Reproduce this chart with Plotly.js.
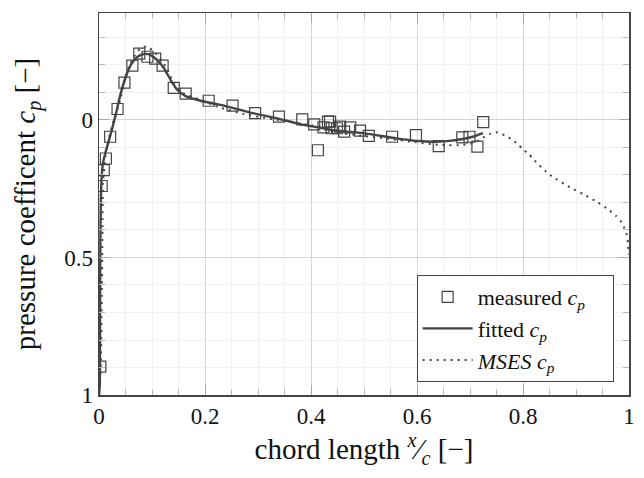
<!DOCTYPE html>
<html>
<head>
<meta charset="utf-8">
<script src="https://cdn.plot.ly/plotly-3.0.1.min.js"></script>
<style>html,body{margin:0;padding:0;background:#fff;}#chart{width:644px;height:478px;}</style>
</head>
<body>
<div id="chart"></div>
<script>
// measured pressure coefficient
const measuredX = [0.0025, 0.005, 0.009, 0.013, 0.021, 0.035, 0.048, 0.063, 0.076, 0.0915, 0.106, 0.120, 0.141, 0.1635, 0.207, 0.252, 0.2945, 0.3395, 0.3835, 0.406, 0.413, 0.4235, 0.432, 0.436, 0.439, 0.449, 0.455, 0.4625, 0.474, 0.4925, 0.509, 0.553, 0.598, 0.641, 0.6855, 0.699, 0.714, 0.725];
const measuredY = [0.897, 0.24, 0.182, 0.14, 0.061, -0.04, -0.136, -0.198, -0.241, -0.230, -0.223, -0.198, -0.117, -0.096, -0.070, -0.052, -0.025, -0.012, -0.002, 0.016, 0.110, 0.027, 0.006, 0.006, 0.030, 0.030, 0.024, 0.042, 0.027, 0.039, 0.058, 0.061, 0.055, 0.095, 0.063, 0.061, 0.097, 0.008];

// fitted pressure coefficient
const fittedX = [0.0, 0.0015, 0.002, 0.0025, 0.0035, 0.005, 0.0075, 0.012, 0.0226, 0.032, 0.041, 0.0508, 0.060, 0.0727, 0.085, 0.0977, 0.110, 0.1227, 0.1353, 0.148, 0.1635, 0.1917, 0.2356, 0.2857, 0.3358, 0.386, 0.4235, 0.436, 0.4987, 0.5614, 0.599, 0.6366, 0.6617, 0.6867, 0.7055, 0.7243];
const fittedY = [1.0, 0.96, 0.72, 0.47, 0.29, 0.206, 0.157, 0.12, 0.048, -0.024, -0.097, -0.158, -0.2, -0.230, -0.240, -0.236, -0.218, -0.188, -0.145, -0.109, -0.087, -0.070, -0.052, -0.027, -0.006, 0.018, 0.030, 0.036, 0.048, 0.067, 0.076, 0.079, 0.076, 0.069, 0.061, 0.048];

// MSES pressure coefficient
const msesX = [0.0, 0.002, 0.0035, 0.0045, 0.0055, 0.0065, 0.0075, 0.011, 0.016, 0.028, 0.04, 0.05, 0.063, 0.0777, 0.09, 0.104, 0.115, 0.128, 0.135, 0.145, 0.160, 0.192, 0.229, 0.273, 0.317, 0.361, 0.411, 0.436, 0.499, 0.549, 0.599, 0.643, 0.687, 0.712, 0.7274, 0.737, 0.752, 0.765, 0.778, 0.790, 0.80, 0.811, 0.8195, 0.851, 0.889, 0.914, 0.939, 0.962, 0.975, 0.984, 0.991, 0.996, 0.998, 0.999, 1.0];
const msesY = [1.0, 0.95, 0.88, 0.75, 0.6, 0.4, 0.23, 0.15, 0.085, 0.0, -0.073, -0.158, -0.22, -0.26, -0.267, -0.248, -0.224, -0.188, -0.158, -0.121, -0.097, -0.073, -0.045, -0.022, -0.006, 0.006, 0.024, 0.042, 0.058, 0.069, 0.081, 0.091, 0.091, 0.079, 0.061, 0.051, 0.045, 0.055, 0.070, 0.087, 0.107, 0.124, 0.143, 0.2, 0.245, 0.27, 0.297, 0.327, 0.348, 0.367, 0.392, 0.418, 0.446, 0.47, 0.49];

const xTicks = [0, 0.2, 0.4, 0.6, 0.8, 1];
const xTickText = ['0', '0.2', '0.4', '0.6', '0.8', '1'];
const yTicks = [0, 0.5, 1];
const yTickText = ['0', '0.5', '1'];

const ink = '#444444';
const FONT = 'Liberation Serif, Times New Roman, serif';
const PAD = '\u00a0\u00a0\u00a0\u00a0';

const traces = [
  {
    x: measuredX, y: measuredY, type: 'scatter', mode: 'markers',
    name: 'measured <i>c</i><sub><i>p</i></sub>' + PAD,
    marker: {symbol: 'square-open', size: 11, color: ink, line: {width: 1.2, color: ink}}
  },
  {
    x: fittedX, y: fittedY, type: 'scatter', mode: 'lines',
    name: 'fitted <i>c</i><sub><i>p</i></sub>',
    line: {color: ink, width: 2.4, shape: 'spline', smoothing: 0.6}
  },
  {
    x: msesX, y: msesY, type: 'scatter', mode: 'lines',
    name: '<i>MSES c</i><sub><i>p</i></sub>',
    line: {color: ink, width: 2, dash: '2px,5px', shape: 'spline', smoothing: 0.5}
  }
];

const axisCommon = {
  showline: true, linecolor: ink, linewidth: 1.5, mirror: 'allticks',
  ticks: 'inside', ticklen: 10, tickcolor: '#a8a8a8', tickwidth: 1,
  showgrid: true, gridcolor: '#d6d6d6', gridwidth: 1,
  zeroline: false,
  tickfont: {family: FONT, size: 23, color: '#111'}
};

const layout = {
  width: 644, height: 478,
  margin: {l: 99, r: 15, t: 13, b: 83},
  paper_bgcolor: '#fff', plot_bgcolor: '#fff',
  font: {family: FONT, color: '#111'},
  showlegend: true,
  xaxis: Object.assign({}, axisCommon, {
    range: [0, 1], autorange: false,
    tickmode: 'array', tickvals: xTicks, ticktext: xTickText,
    minor: {dtick: 0.05, tick0: 0, ticks: 'inside', ticklen: 6, tickcolor: '#b8b8b8', showgrid: true, gridcolor: '#f0f0f0', gridwidth: 1},
    title: {text: 'chord length <i><sup>x</sup></i>⁄<i><sub>c</sub></i> [−]', font: {family: FONT, size: 29, color: '#111'}, standoff: 6}
  }),
  yaxis: Object.assign({}, axisCommon, {
    range: [1, -0.389], autorange: false,
    tickmode: 'array', tickvals: yTicks, ticktext: yTickText,
    minor: {dtick: 0.1, tick0: 0, ticks: 'inside', ticklen: 6, tickcolor: '#b8b8b8', showgrid: true, gridcolor: '#f0f0f0', gridwidth: 1},
    title: {text: 'pressure coefficent <i>c</i><sub><i>p</i></sub> [−]', font: {family: FONT, size: 29, color: '#111'}, standoff: 20}
  }),
  legend: {
    x: 0.971, xanchor: 'right', y: 0.034, yanchor: 'bottom',
    bgcolor: '#fff', bordercolor: ink, borderwidth: 1,
    font: {family: FONT, size: 22, color: '#111'},
    tracegroupgap: 0, itemwidth: 50
  }
};

Plotly.newPlot('chart', traces, layout, {staticPlot: true, displayModeBar: false});
</script>
</body>
</html>
